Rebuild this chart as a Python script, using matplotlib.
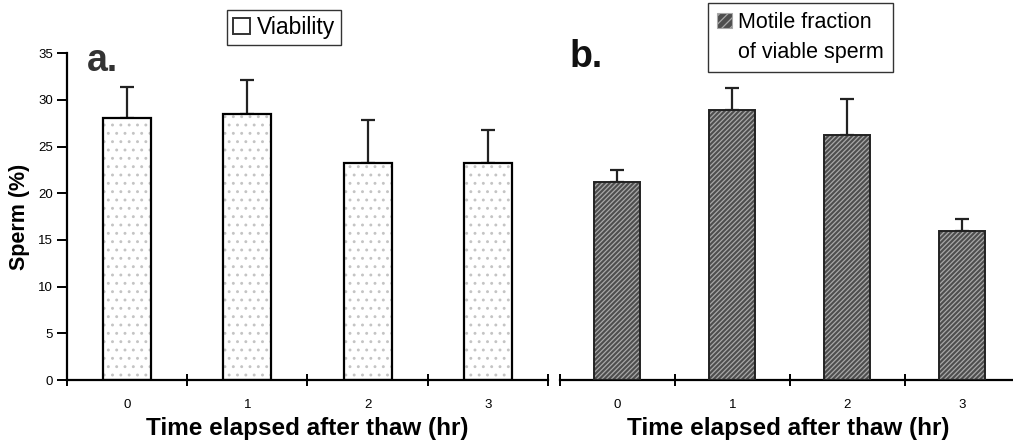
import matplotlib
matplotlib.use('Agg')
import matplotlib.pyplot as plt
import matplotlib.patches as mpatches
import numpy as np

plt.rcParams['font.family'] = ['Liberation Sans', 'DejaVu Sans']
plt.rcParams['hatch.linewidth'] = 0.9

hours = [0, 1, 2, 3]
viability = [28.1, 28.5, 23.2, 23.2]
viability_err = [3.3, 3.6, 4.6, 3.6]
motile = [21.2, 28.9, 26.2, 16.0]
motile_err = [1.3, 2.35, 3.9, 1.3]
yticks = [0, 5, 10, 15, 20, 25, 30, 35]

fig = plt.figure(figsize=(10.13, 4.44), dpi=100)
ax_a = fig.add_axes([0.0661, 0.1441, 0.4749, 0.7359])
ax_b = fig.add_axes([0.5528, 0.1441, 0.4502, 0.7359])

x = np.arange(len(hours))

# stipple fill first, then the black outline on top
ax_a.bar(x, viability, width=0.4, color='white', edgecolor='#c4c4c4',
         linewidth=0, hatch='..', zorder=2)
ax_a.bar(x, viability, width=0.4, color='none', edgecolor='black',
         linewidth=1.6, zorder=3)
ax_a.errorbar(x, viability, yerr=[np.zeros(4), viability_err], fmt='none',
              ecolor='#222222', elinewidth=1.6, capsize=5, capthick=1.6, zorder=1)

ax_b.bar(x, motile, width=0.4, color='#4e4e4e', edgecolor='#a8a8a8',
         linewidth=0, hatch='///////', zorder=2)
ax_b.bar(x, motile, width=0.4, color='none', edgecolor='#222222',
         linewidth=1.4, zorder=3)
ax_b.errorbar(x, motile, yerr=[np.zeros(4), motile_err], fmt='none',
              ecolor='#222222', elinewidth=1.6, capsize=5, capthick=1.6, zorder=1)

for ax in (ax_a, ax_b):
    ax.set_ylim(0, 35)
    ax.set_xlim(-0.5, 3.5)
    ax.spines['top'].set_visible(False)
    ax.spines['right'].set_visible(False)
    ax.spines['bottom'].set_linewidth(1.6)
    ax.set_xticks(x)
    ax.set_xticklabels([str(h) for h in hours], fontsize=9.5)
    ax.tick_params(axis='x', which='major', length=0, pad=14)
    ax.set_xticks(np.arange(-0.5, 4, 1), minor=True)
    ax.tick_params(axis='x', which='minor', direction='inout', length=9, width=1.4)
    ax.set_xlabel('Time elapsed after thaw (hr)', fontsize=17.5, fontweight='bold',
                  labelpad=4)

ax_a.spines['left'].set_linewidth(1.6)
ax_a.set_yticks(yticks)
ax_a.tick_params(axis='y', length=7, width=1.4, labelsize=9.5, pad=3)
ax_a.set_ylabel('Sperm (%)', fontsize=15.5, fontweight='bold', labelpad=6)

ax_b.spines['left'].set_visible(False)
ax_b.set_yticks([])
ax_b.set_xlim(-0.5, 3.47)

fig.text(0.086, 0.84, 'a.', fontsize=27, fontweight='bold', color='#333333')
fig.text(0.562, 0.85, 'b.', fontsize=27, fontweight='bold', color='#111111')

h_a = mpatches.Patch(facecolor='white', edgecolor='#333333', linewidth=1.4)
leg_a = ax_a.legend([h_a], ['Viability'], loc='upper left',
                    bbox_to_anchor=(0.224, 0.977), bbox_transform=fig.transFigure,
                    fontsize=16.5, frameon=True, fancybox=False, handlelength=0.75,
                    handleheight=0.75, handletextpad=0.3, borderpad=0.25,
                    borderaxespad=0)
leg_a.get_frame().set_edgecolor('black')
leg_a.get_frame().set_linewidth(1.0)

h_b = mpatches.Patch(facecolor='#4e4e4e', edgecolor='#a8a8a8', hatch='////', linewidth=0.8)
h_blank = mpatches.Patch(facecolor='none', edgecolor='none')
leg_b = ax_b.legend([h_b, h_blank], ['Motile fraction', 'of viable sperm'],
                    loc='upper left', bbox_to_anchor=(0.699, 0.993),
                    bbox_transform=fig.transFigure, fontsize=15.5, frameon=True,
                    fancybox=False, handlelength=0.7, handleheight=0.7,
                    handletextpad=0.3, borderpad=0.4, labelspacing=0.45,
                    borderaxespad=0)
leg_b.get_frame().set_edgecolor('black')
leg_b.get_frame().set_linewidth(1.0)

fig.savefig('out.png', dpi=100)
